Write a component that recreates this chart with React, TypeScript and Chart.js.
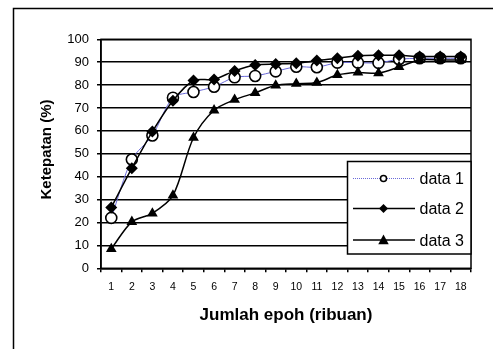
import React, { useEffect, useRef } from "react";
import { Chart, registerables } from "chart.js";

Chart.register(...registerables);

const categories = ["1","2","3","4","5","6","7","8","9","10","11","12","13","14","15","16","17","18"];
const data1 = [22, 47.5, 58, 74.5, 77, 79.3, 83.4, 84, 86, 88, 87.8, 89.8, 89.8, 89.7, 91.3, 91.7, 91.7, 91.7];
const data2 = [26.6, 43.7, 59.7, 73.2, 82, 82.5, 86.2, 88.8, 89.2, 89.5, 90.7, 91.7, 92.8, 93, 93, 92.5, 92.5, 92.5];
const data3 = [8.5, 20.3, 24, 31.8, 57, 69, 73.6, 76.6, 79.9, 80.6, 81.1, 84.4, 85.5, 85.2, 87.9, 91, 91, 91];
const seriesNames = ["data 1", "data 2", "data 3"];
const xTitle = "Jumlah epoh (ribuan)";
const yTitle = "Ketepatan (%)";

const FONT = "'Liberation Sans', Arial, sans-serif";

function drawMarker(ctx: CanvasRenderingContext2D, kind: string, x: number, y: number, r: number) {
  ctx.save();
  ctx.beginPath();
  if (kind === "circle") {
    ctx.arc(x, y, r, 0, Math.PI * 2);
    ctx.fillStyle = "#fff";
    ctx.fill();
    ctx.lineWidth = 1.5;
    ctx.strokeStyle = "#000";
    ctx.stroke();
  } else if (kind === "diamond") {
    ctx.moveTo(x, y - r);
    ctx.lineTo(x + r, y);
    ctx.lineTo(x, y + r);
    ctx.lineTo(x - r, y);
    ctx.closePath();
    ctx.fillStyle = "#000";
    ctx.fill();
  } else {
    ctx.moveTo(x, y - r);
    ctx.lineTo(x + r * 0.95, y + r * 0.75);
    ctx.lineTo(x - r * 0.95, y + r * 0.75);
    ctx.closePath();
    ctx.fillStyle = "#000";
    ctx.fill();
  }
  ctx.restore();
}

const decorPlugin = {
  id: "decor",
  beforeDraw(chart: any) {
    const ctx = chart.ctx;
    ctx.save();
    ctx.fillStyle = "#fff";
    ctx.fillRect(0, 0, chart.width, chart.height);
    ctx.restore();
  },
  afterDraw(chart: any) {
    const ctx: CanvasRenderingContext2D = chart.ctx;
    const a = chart.chartArea;
    ctx.save();
    ctx.strokeStyle = "#000";
    ctx.lineWidth = 1.5;
    ctx.strokeRect(a.left, a.top, a.right - a.left, a.bottom - a.top);
    ctx.strokeRect(13.5, 8.5, 520, 420);
    ctx.fillStyle = "#000";
    ctx.font = `bold 17px ${FONT}`;
    ctx.textAlign = "center";
    ctx.textBaseline = "alphabetic";
    ctx.fillText(xTitle, (a.left + a.right) / 2, 320);
    ctx.save();
    ctx.translate(50.5, 149.5);
    ctx.rotate(-Math.PI / 2);
    ctx.font = `bold 15px ${FONT}`;
    ctx.fillText(yTitle, 0, 0);
    ctx.restore();
    const lx = 347.5, ly = 161.5, lw = a.right - 347.5, lh = 92.5;
    ctx.fillStyle = "#fff";
    ctx.fillRect(lx, ly, lw, lh);
    ctx.lineWidth = 1.5;
    ctx.strokeStyle = "#000";
    ctx.strokeRect(lx, ly, lw, lh);
    const rows = [178.5, 208.5, 240];
    const kinds = ["circle", "diamond", "triangle"];
    rows.forEach((ry, i) => {
      ctx.beginPath();
      ctx.moveTo(353, ry);
      ctx.lineTo(415, ry);
      if (i === 0) {
        ctx.strokeStyle = "#6a6ad8";
        ctx.lineWidth = 1;
        ctx.setLineDash([1, 1]);
      } else {
        ctx.strokeStyle = "#000";
        ctx.lineWidth = 1.5;
        ctx.setLineDash([]);
      }
      ctx.stroke();
      ctx.setLineDash([]);
      drawMarker(ctx, kinds[i], 383.5, ry, i === 0 ? 3 : i === 1 ? 4.5 : 5.5);
      ctx.fillStyle = "#000";
      ctx.font = `16px ${FONT}`;
      ctx.textAlign = "left";
      ctx.textBaseline = "alphabetic";
      ctx.fillText(seriesNames[i], 419.5, ry + 5.5);
    });
    ctx.restore();
  },
};

export default function App() {
  const ref = useRef<HTMLCanvasElement | null>(null);
  useEffect(() => {
    if (!ref.current) return;
    const chart = new Chart(ref.current, {
      type: "line",
      data: {
        labels: categories,
        datasets: [
          {
            label: seriesNames[0],
            data: data1,
            borderColor: "#6a6ad8",
            borderWidth: 1,
            pointStyle: "circle",
            pointRadius: 5.5,
            pointBackgroundColor: "#fff",
            pointBorderColor: "#000",
            pointBorderWidth: 1.6,
            tension: 0.3,
            fill: false,
            order: 2,
          },
          {
            label: seriesNames[1],
            data: data2,
            borderColor: "#000",
            borderWidth: 1.5,
            pointStyle: "rectRot",
            pointRadius: 6,
            pointBackgroundColor: "#000",
            pointBorderColor: "#000",
            pointBorderWidth: 0,
            tension: 0.3,
            fill: false,
            order: 1,
          },
          {
            label: seriesNames[2],
            data: data3,
            borderColor: "#000",
            borderWidth: 1.5,
            pointStyle: "triangle",
            pointRadius: 6.2,
            pointBackgroundColor: "#000",
            pointBorderColor: "#000",
            pointBorderWidth: 0,
            tension: 0.3,
            fill: false,
            order: 0,
          },
        ],
      },
      options: {
        responsive: false,
        animation: false,
        devicePixelRatio: 1,
        layout: { padding: { left: 0, top: 39.3, right: 22, bottom: 0 } },
        plugins: { legend: { display: false }, tooltip: { enabled: false }, title: { display: false } },
        scales: {
          x: {
            offset: true,
            grid: { display: true, drawOnChartArea: false, drawTicks: true, tickLength: 4, color: "#000", lineWidth: 1.5, offset: true },
            border: { display: true, color: "#000", width: 1.5 },
            ticks: { color: "#000", font: { family: FONT, size: 10.5 }, padding: 9, maxRotation: 0, autoSkip: false },
            afterFit: (s: any) => { s.height = 80.7; },
          },
          y: {
            min: 0,
            max: 100,
            grid: { display: true, drawTicks: true, tickLength: 4, color: "#000", lineWidth: 1.5 },
            border: { display: true, color: "#000", width: 1.5 },
            ticks: { stepSize: 10, color: "#000", font: { family: FONT, size: 13 }, padding: 8 },
            afterFit: (s: any) => { s.width = 101; },
          },
        },
      },
      plugins: [decorPlugin],
    });
    return () => chart.destroy();
  }, []);
  return (
    <div style={{ position: "fixed", left: 0, top: 0, width: 493, height: 349, background: "#fff" }}>
      <canvas ref={ref} width={493} height={349} style={{ width: 493, height: 349, display: "block" }} />
    </div>
  );
}
